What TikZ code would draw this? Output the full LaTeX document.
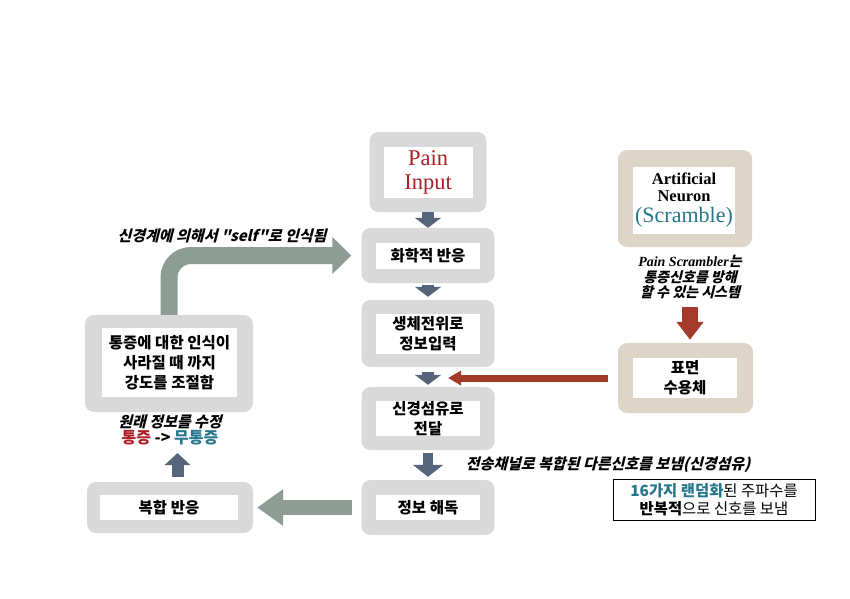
\documentclass[tikz,border=0pt]{standalone}
\usepackage{fontspec}
\setmainfont{Liberation Serif}
\newfontfamily\kr{Noto Sans CJK KR}
\newfontfamily\krit[FakeSlant=0.25]{Noto Sans CJK KR}
\usetikzlibrary{positioning, arrows.meta, calc}

\definecolor{framegray}{RGB}{217,217,217}
\definecolor{frametan}{RGB}{221,213,200}
\definecolor{arrowblue}{RGB}{86,101,123}
\definecolor{arrowgreen}{RGB}{141,157,147}
\definecolor{arrowred}{RGB}{163,58,42}
\definecolor{painred}{RGB}{172,30,40}
\definecolor{tealtext}{RGB}{38,118,140}

\tikzset{
    frame/.style={fill=framegray, rounded corners=9pt, inner sep=0pt},
    tanframe/.style={frame, fill=frametan},
    card/.style={fill=white, inner sep=0pt, align=center, font=\kr\bfseries\fontsize{15.5}{20}\selectfont},
    note/.style={align=center, font=\krit\bfseries\fontsize{15}{16}\selectfont},
    bluearrow/.style={draw=arrowblue, line width=12pt, -{Triangle[width=26pt,length=10pt]}},
    greenarrow/.style={draw=arrowgreen, line width=17pt, -{Triangle[width=36pt,length=19pt]}},
    redarrow/.style={draw=arrowred, line width=16pt, -{Triangle[width=26pt,length=18pt]}}
}

\begin{document}
\begin{tikzpicture}[x=1pt, y=-1pt]
    \useasboundingbox (0,0) rectangle (850,598);
    % centre column
    \node[frame, minimum width=117pt, minimum height=80pt] (pain) at (428,172) {};
    \node[card, minimum width=89pt, minimum height=51pt, text=painred, font=\fontsize{22.5}{24}\selectfont] (painTxt) at (pain) {Pain\\Input};
    \node[frame, minimum width=133pt, minimum height=55pt] (chem) at (428,255.5) {};
    \node[card, minimum width=104pt, minimum height=26pt] (chemTxt) at (chem) {화학적 반응};
    \node[frame, minimum width=133pt, minimum height=67pt] (bio) at (428,333.5) {};
    \node[card, minimum width=104pt, minimum height=40pt] (bioTxt) at (bio) {생체전위로\\정보입력};
    \node[frame, minimum width=133pt, minimum height=63pt] (nerve) at (428,418.5) {};
    \node[card, minimum width=104pt, minimum height=34pt] (nerveTxt) at (nerve) {신경섬유로\\전달};
    \node[frame, minimum width=133pt, minimum height=55pt] (decode) at (428,507.5) {};
    \node[card, minimum width=104pt, minimum height=25pt] (decodeTxt) at (decode) {정보 해독};

    % left column
    \node[frame, minimum width=168pt, minimum height=97pt] (adjust) at (169,363.5) {};
    \node[card, minimum width=135pt, minimum height=69pt] (adjustTxt) at (169.5,362.5) {통증에 대한 인식이\\사라질 때 까지\\강도를 조절함};
    \node[frame, minimum width=166pt, minimum height=51pt] (complex) at (170,507.5) {};
    \node[card, minimum width=138pt, minimum height=25pt] (complexTxt) at (169,507.5) {복합 반응};

    % right column
    \node[tanframe, minimum width=134pt, minimum height=97pt] (neuron) at (685,198.5) {};
    \node[card, minimum width=102pt, minimum height=67pt, font=\fontsize{16.5}{21}\selectfont] (neuronTxt) at (684,200)
        {\textbf{Artificial}\\[-4pt]\textbf{Neuron}\\{\fontsize{22}{21}\selectfont\color{tealtext}(Scramble)}};
    \node[tanframe, minimum width=135pt, minimum height=70pt] (receptor) at (685.5,378) {};
    \node[card, minimum width=104pt, minimum height=40pt] (receptorTxt) at (685,378) {표면\\수용체};

    % notes
    \node[note] (selfNote) at (222,236) {신경계에 의해서 "self"로 인식됨};
    \node[note] (fixNote) at (170,422) {원래 정보를 수정};
    \node[font=\kr\bfseries\fontsize{16}{16}\selectfont] (painNote) at (170,438)
        {\textcolor{painred}{통증} -> \textcolor{tealtext}{무통증}};
    \node[note, font=\krit\bfseries\fontsize{14}{15.5}\selectfont] (scrNote) at (690,277)
        {{\rmfamily\bfseries\itshape Pain Scrambler}는\\통증신호를 방해\\할 수 있는 시스템};
    \node[note] (sendNote) at (608,465) {전송채널로 복합된 다른신호를 보냄(신경섬유)};
    \node[draw, line width=0.8pt, minimum width=202pt, minimum height=41pt, inner sep=0pt, align=center,
        font=\kr\fontsize{15.4}{18}\selectfont] (randBox) at (714,499.5)
        {\textcolor{tealtext}{\bfseries 16가지 랜덤화}된 주파수를\\{\bfseries 반복적}으로 신호를 보냄};

    % arrows
    \draw[bluearrow] (pain) -- (chem);
    \draw[bluearrow, shorten <=2pt, shorten >=3pt] (chem) -- (bio);
    \draw[bluearrow, shorten <=5pt, shorten >=2pt] (bio) -- (nerve);
    \draw[bluearrow, line width=10pt, -{Triangle[width=30pt,length=12pt]}, shorten <=3pt, shorten >=3pt] (nerve) -- (decode);
    \draw[greenarrow, rounded corners=22pt, shorten >=10pt] (adjust.north) |- (chem.west);
    \draw[greenarrow, line width=15pt, -{Triangle[width=35pt,length=26pt]}, shorten <=9pt, shorten >=4pt] (decode.west) -- (complex.east);
    \coordinate (upTip) at (177.5,453);
    \draw[bluearrow, line width=12pt, -{Triangle[width=25pt,length=12pt]}, shorten <=5pt] (upTip |- complex.north) -- (upTip);
    \coordinate (scrTail) at (690,307);
    \draw[redarrow, shorten >=3pt] (scrTail) -- (scrTail |- receptor.north);
    \coordinate (gapR) at (448,378);
    \draw[redarrow, line width=7pt, -{Triangle[width=14pt,length=13pt]}, shorten <=10pt] (receptor.west) -- (gapR);
\end{tikzpicture}
\end{document}
